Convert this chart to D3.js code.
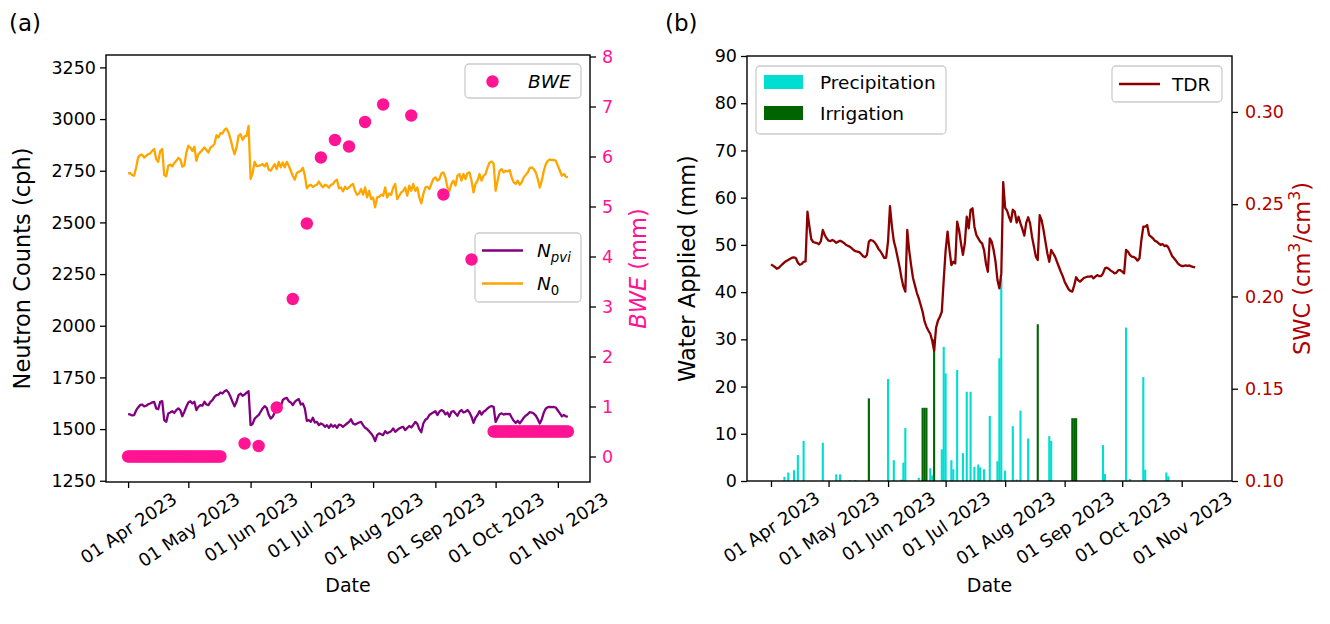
<!DOCTYPE html>
<html>
<head>
<meta charset="utf-8">
<script src="https://cdn.jsdelivr.net/npm/d3@7"></script>
<style>
  body { margin: 0; background: #ffffff; }
  svg text { font-family: "DejaVu Sans", sans-serif; }
</style>
</head>
<body>
<svg id="chart" width="1330" height="624"></svg>
<script>
// ---------------- data ----------------
// daily series start on this date
const seriesStart = "2023-04-01";

// corrected neutron intensity N_pvi (cph), one value per day
const npviCounts = [
  1572,1571,1566,1568,1590,1605,1616,1619,1610,1613,
  1620,1624,1629,1632,1600,1596,1632,1635,1543,1535,
  1575,1580,1587,1578,1592,1600,1592,1562,1584,1608,
  1629,1635,1624,1632,1592,1608,1616,1613,1632,1619,
  1616,1632,1640,1656,1664,1667,1677,1672,1683,1688,
  1677,1656,1632,1610,1632,1664,1672,1661,1667,1676,
  1683,1519,1525,1550,1560,1568,1584,1600,1611,1603,
  1570,1551,1560,1580,1600,1624,1608,1640,1648,1651,
  1635,1629,1616,1632,1640,1645,1619,1624,1600,1540,
  1543,1535,1555,1532,1535,1519,1527,1522,1511,1519,
  1506,1522,1511,1519,1506,1522,1519,1511,1519,1527,
  1535,1548,1527,1522,1527,1532,1535,1519,1506,1500,
  1490,1479,1465,1442,1471,1479,1475,1471,1490,1480,
  1485,1490,1503,1487,1495,1503,1508,1511,1495,1505,
  1515,1508,1520,1535,1525,1500,1485,1527,1545,1551,
  1568,1575,1580,1587,1568,1584,1592,1587,1571,1580,
  1560,1584,1587,1576,1564,1584,1592,1580,1584,1592,
  1580,1560,1530,1555,1568,1587,1570,1584,1590,1600,
  1608,1611,1608,1535,1554,1572,1576,1570,1574,1572,
  1574,1556,1540,1530,1540,1528,1540,1555,1565,1572,
  1582,1580,1575,1565,1548,1527,1548,1580,1600,1606,
  1608,1606,1607,1604,1590,1576,1562,1568,1562,1560
];

// N0 calibration parameter (cph), one value per day
const n0Counts = [
  2737,2739,2730,2726,2766,2814,2826,2828,2814,2822,
  2830,2834,2846,2855,2806,2793,2846,2855,2729,2723,
  2774,2780,2771,2787,2798,2812,2805,2770,2775,2838,
  2871,2862,2846,2866,2798,2830,2840,2851,2862,2850,
  2838,2862,2868,2880,2922,2911,2932,2930,2948,2954,
  2935,2903,2862,2830,2862,2919,2927,2899,2916,2919,
  2967,2710,2739,2793,2772,2774,2777,2782,2771,2787,
  2755,2750,2766,2782,2758,2793,2766,2790,2766,2793,
  2774,2750,2726,2707,2739,2745,2750,2764,2729,2665,
  2678,2682,2671,2678,2682,2698,2681,2670,2682,2678,
  2668,2682,2685,2700,2707,2665,2669,2650,2673,2661,
  2669,2680,2686,2653,2634,2640,2661,2634,2669,2621,
  2653,2613,2621,2573,2621,2624,2634,2629,2669,2621,
  2640,2634,2669,2686,2613,2629,2645,2653,2669,2629,
  2678,2653,2686,2653,2669,2621,2592,2637,2669,2673,
  2661,2686,2710,2718,2702,2710,2737,2742,2718,2669,
  2653,2686,2702,2678,2726,2734,2702,2734,2710,2738,
  2742,2702,2645,2686,2702,2734,2702,2726,2734,2766,
  2790,2795,2785,2653,2702,2750,2758,2742,2750,2747,
  2753,2718,2694,2686,2702,2682,2694,2718,2730,2742,
  2763,2766,2758,2742,2710,2669,2702,2750,2782,2798,
  2805,2801,2803,2798,2774,2750,2726,2734,2721,2718
];

// biomass water equivalent (mm): daily values before and after the season
const bweEarlyStart = "2023-04-01";
const bweEarly = [
  0,0,0,0,0,0,0,0,0,0, 0,0,0,0,0,0,0,0,0,0,
  0,0,0,0,0,0,0,0,0,0, 0,0,0,0,0,0,0,0,0,0,
  0,0,0,0,0,0,0
];
const bweLateStart = "2023-09-30";
const bweLate = [
  0.5,0.5,0.5,0.5,0.5,0.5,0.5,0.5,0.5,0.5,
  0.5,0.5,0.5,0.5,0.5,0.5,0.5,0.5,0.5,0.5,
  0.5,0.5,0.5,0.5,0.5,0.5,0.5,0.5,0.5,0.5,
  0.5,0.5,0.5,0.5,0.5,0.5,0.5,0.5
];
// in-season BWE samples
const bweDates  = ["2023-05-29","2023-06-05","2023-06-14","2023-06-22","2023-06-29","2023-07-06",
                   "2023-07-13","2023-07-20","2023-07-28","2023-08-06","2023-08-20","2023-09-05","2023-09-19"];
const bweValues = [0.26,0.21,0.98,3.15,4.66,5.98,6.33,6.20,6.69,7.04,6.82,5.24,3.94];

// daily rainfall (mm)
const precipDates = [
  "2023-04-08","2023-04-10","2023-04-13","2023-04-15","2023-04-18","2023-04-28","2023-05-05","2023-05-07",
  "2023-05-12","2023-05-15","2023-06-01","2023-06-04","2023-06-08","2023-06-09","2023-06-10","2023-06-17",
  "2023-06-23","2023-06-24","2023-06-29","2023-06-30","2023-07-01","2023-07-04","2023-07-05","2023-07-07",
  "2023-07-10","2023-07-12","2023-07-14","2023-07-16","2023-07-18","2023-07-19","2023-07-21","2023-07-24",
  "2023-07-28","2023-07-29","2023-07-30","2023-08-01","2023-08-05","2023-08-07","2023-08-09","2023-08-13",
  "2023-08-24","2023-08-25","2023-09-21","2023-09-22","2023-10-03","2023-10-05","2023-10-12","2023-10-13",
  "2023-10-24","2023-10-25"
];
const precipValues = [
  0.9,1.8,2.3,5.5,8.5,8.1,1.4,1.4,
  0.2,0.2,21.6,4.4,0.3,3.9,11.2,0.7,
  2.7,1.2,6.7,28.4,22.8,4.4,2.5,23.5,
  5.9,18.9,18.9,3.0,3.5,2.9,2.5,13.8,
  4.2,26.0,42.9,2.2,11.6,0.3,14.9,9.0,
  9.5,8.5,7.6,1.5,32.5,0.4,22.0,2.4,
  1.8,1.0
];

// daily irrigation (mm)
const irrigDates  = ["2023-05-22","2023-06-19","2023-06-20","2023-06-21","2023-06-25",
                     "2023-08-18","2023-09-05","2023-09-06","2023-09-07"];
const irrigValues = [17.5,15.5,15.5,15.5,30.0,33.2,13.3,13.3,13.3];

// TDR soil water content (cm3/cm3), one value per day
const tdrSwc = [
  0.2174,0.2167,0.2160,0.2150,0.2155,0.2165,0.2175,0.2185,0.2192,0.2198,
  0.2204,0.2210,0.2212,0.2207,0.2183,0.2172,0.2176,0.2188,0.2190,0.2460,
  0.2380,0.2310,0.2295,0.2292,0.2289,0.2283,0.2300,0.2360,0.2333,0.2315,
  0.2302,0.2300,0.2306,0.2300,0.2291,0.2297,0.2302,0.2297,0.2290,0.2280,
  0.2275,0.2270,0.2262,0.2252,0.2245,0.2243,0.2240,0.2230,0.2218,0.2213,
  0.2225,0.2297,0.2306,0.2302,0.2293,0.2278,0.2258,0.2245,0.2228,0.2208,
  0.2210,0.2300,0.2490,0.2380,0.2300,0.2260,0.2210,0.2160,0.2100,0.2053,
  0.2026,0.2360,0.2250,0.2170,0.2100,0.2060,0.2020,0.1990,0.1954,0.1917,
  0.1865,0.1836,0.1815,0.1798,0.1760,0.1706,0.1830,0.1869,0.1890,0.1917,
  0.2089,0.2250,0.2351,0.2252,0.2170,0.2188,0.2179,0.2405,0.2360,0.2288,
  0.2225,0.2288,0.2432,0.2369,0.2469,0.2478,0.2378,0.2333,0.2315,0.2297,
  0.2288,0.2252,0.2179,0.2134,0.2315,0.2297,0.2252,0.2188,0.2089,0.2044,
  0.2125,0.2620,0.2480,0.2465,0.2432,0.2405,0.2470,0.2460,0.2400,0.2432,
  0.2396,0.2365,0.2330,0.2400,0.2429,0.2396,0.2324,0.2270,0.2216,0.2198,
  0.2440,0.2414,0.2360,0.2297,0.2234,0.2188,0.2252,0.2234,0.2216,0.2188,
  0.2161,0.2134,0.2110,0.2080,0.2060,0.2040,0.2030,0.2026,0.2060,0.2104,
  0.2089,0.2080,0.2090,0.2100,0.2104,0.2107,0.2107,0.2111,0.2098,0.2107,
  0.2116,0.2110,0.2110,0.2125,0.2152,0.2156,0.2150,0.2140,0.2134,0.2125,
  0.2129,0.2143,0.2143,0.2134,0.2125,0.2252,0.2243,0.2225,0.2216,0.2214,
  0.2207,0.2194,0.2207,0.2306,0.2378,0.2378,0.2387,0.2333,0.2324,0.2315,
  0.2302,0.2297,0.2288,0.2279,0.2284,0.2273,0.2277,0.2266,0.2243,0.2219,
  0.2207,0.2194,0.2179,0.2170,0.2165,0.2165,0.2168,0.2166,0.2168,0.2163,
  0.2160,0.2158
];

// axis ticks
const countTicks = [1250,1500,1750,2000,2250,2500,2750,3000,3250];
const bweTicks = [0,1,2,3,4,5,6,7,8];
const waterTicks = [0,10,20,30,40,50,60,70,80,90];
const swcTicks = [0.10,0.15,0.20,0.25,0.30];
const monthTicks = ["2023-04-01","2023-05-01","2023-06-01","2023-07-01","2023-08-01","2023-09-01","2023-10-01","2023-11-01"];

// ---------------- helpers ----------------
const parse = d3.utcParse("%Y-%m-%d");
const fmtDate = d3.utcFormat("%d %b %Y");
const daily = (startStr, arr) => {
  const s = parse(startStr);
  return arr.map((v, i) => ({ date: d3.utcDay.offset(s, i), value: v }));
};

const svg = d3.select("#chart");
const TICK_FS = 17.5, XTICK_FS = 18, YLABEL_FS = 22.5, XLABEL_FS = 19, LEG_FS = 18.5;
const TICK_LEN = 6, TICK_PAD = 3, X_ROT = 34;
const PINK = "#ff1493", ORANGE = "#ffa500", PURPLE = "#800080";
const CYAN = "#00ded1", DGREEN = "#006400", DRED = "#8b0000", DRED_TXT = "#b00000";

function styleAxis(g, color, fs) {
  g.select(".domain").remove();
  g.selectAll(".tick line").attr("stroke", "#000").attr("stroke-width", 1.3);
  g.selectAll(".tick text").attr("fill", color || "#000")
    .style("font-size", (fs || TICK_FS) + "px").style("font-family", "DejaVu Sans, sans-serif");
}

// matplotlib-style rotated labels: the rotated box is centred under its tick
function rotateDateTicks(g) {
  const rad = X_ROT * Math.PI / 180;
  g.selectAll(".tick text").each(function () {
    const t = d3.select(this);
    t.attr("y", null).attr("dy", null)
      .attr("text-anchor", "middle").attr("dominant-baseline", "central");
    const L = this.getComputedTextLength();
    const h = XTICK_FS * 0.78;
    const H = L * Math.sin(rad) + h * Math.cos(rad);
    t.attr("transform", `translate(0,${TICK_LEN + TICK_PAD + H / 2}) rotate(${-X_ROT})`);
  });
}

function legendBox(g, x, y, w, h) {
  g.append("rect").attr("x", x).attr("y", y).attr("width", w).attr("height", h)
    .attr("rx", 4).attr("fill", "#fff").attr("fill-opacity", 0.8)
    .attr("stroke", "#cccccc").attr("stroke-width", 1.3);
}

// ---------------- panel (a) ----------------
const A = { left: 106, right: 590, top: 55, bottom: 482 };
const xA = d3.scaleUtc().domain([parse("2023-03-21"), parse("2023-11-17")]).range([A.left, A.right]);
const yA = d3.scaleLinear().domain([1244, 3310]).range([A.bottom, A.top]);
const yA2 = d3.scaleLinear().domain([-0.51, 8.03]).range([A.bottom, A.top]);

const gA = svg.append("g");

const lineA = d3.line().x(d => xA(d.date)).y(d => yA(d.value));
gA.append("path").datum(daily(seriesStart, npviCounts)).attr("d", lineA)
  .attr("fill", "none").attr("stroke", PURPLE).attr("stroke-width", 2.3).attr("stroke-linejoin", "round");
gA.append("path").datum(daily(seriesStart, n0Counts)).attr("d", lineA)
  .attr("fill", "none").attr("stroke", ORANGE).attr("stroke-width", 2.3).attr("stroke-linejoin", "round");

// legend for neutron lines (primary axis)
const legA1 = gA.append("g");
legendBox(legA1, 475, 233, 106, 69);
[[PURPLE, 250.5, "pvi"], [ORANGE, 283.5, "0"]].forEach(([c, yy, sub]) => {
  legA1.append("line").attr("x1", 482).attr("x2", 523).attr("y1", yy).attr("y2", yy)
    .attr("stroke", c).attr("stroke-width", 2.3);
  const t = legA1.append("text").attr("x", 537).attr("y", yy + 6.5).style("font-size", LEG_FS + "px");
  t.append("tspan").text("N").style("font-style", "italic");
  t.append("tspan").text(sub).attr("dy", 4.5).style("font-size", (LEG_FS * 0.72) + "px")
    .style("font-style", sub === "0" ? "normal" : "italic");
});

// BWE scatter (secondary axis)
const bweAll = daily(bweEarlyStart, bweEarly)
  .concat(bweDates.map((d, i) => ({ date: parse(d), value: bweValues[i] })))
  .concat(daily(bweLateStart, bweLate));
gA.append("g").selectAll("circle").data(bweAll).join("circle")
  .attr("cx", d => xA(d.date)).attr("cy", d => yA2(d.value)).attr("r", 6.2).attr("fill", PINK);

// BWE legend
const legA2 = gA.append("g");
legendBox(legA2, 465, 64, 116, 34);
legA2.append("circle").attr("cx", 492.5).attr("cy", 81.5).attr("r", 6.2).attr("fill", PINK);
legA2.append("text").attr("x", 528).attr("y", 88).style("font-size", LEG_FS + "px")
  .style("font-style", "italic").text("BWE");

// frame and axes
gA.append("rect").attr("x", A.left).attr("y", A.top).attr("width", A.right - A.left)
  .attr("height", A.bottom - A.top).attr("fill", "none").attr("stroke", "#000").attr("stroke-width", 1.4);

const axA = gA.append("g").attr("transform", `translate(${A.left},0)`)
  .call(d3.axisLeft(yA).tickValues(countTicks).tickSize(TICK_LEN).tickPadding(TICK_PAD + 1).tickFormat(d3.format("d")));
styleAxis(axA);
const axA2 = gA.append("g").attr("transform", `translate(${A.right},0)`)
  .call(d3.axisRight(yA2).tickValues(bweTicks).tickSize(TICK_LEN).tickPadding(TICK_PAD + 3).tickFormat(d3.format("d")));
styleAxis(axA2, PINK);
const axAx = gA.append("g").attr("transform", `translate(0,${A.bottom})`)
  .call(d3.axisBottom(xA).tickValues(monthTicks.map(parse)).tickSize(TICK_LEN).tickFormat(fmtDate));
styleAxis(axAx, "#000", XTICK_FS);
rotateDateTicks(axAx);

gA.append("text").attr("transform", `translate(22,${(A.top + A.bottom) / 2}) rotate(-90)`)
  .attr("text-anchor", "middle").attr("dominant-baseline", "central")
  .style("font-size", YLABEL_FS + "px").text("Neutron Counts (cph)");
const bweLab = gA.append("text").attr("transform", `translate(638,${(A.top + A.bottom) / 2}) rotate(-90)`)
  .attr("text-anchor", "middle").attr("dominant-baseline", "central")
  .style("font-size", YLABEL_FS + "px").attr("fill", PINK);
bweLab.append("tspan").style("font-style", "italic").text("BWE");
bweLab.append("tspan").text(" (mm)");
gA.append("text").attr("x", (A.left + A.right) / 2).attr("y", 592).attr("text-anchor", "middle")
  .style("font-size", XLABEL_FS + "px").text("Date");
gA.append("text").attr("x", 9).attr("y", 31).style("font-size", "23px").text("(a)");

// ---------------- panel (b) ----------------
const B = { left: 747, right: 1232, top: 56, bottom: 481 };
const xB = d3.scaleUtc().domain([d3.utcHour.offset(parse("2023-03-19"), 12), d3.utcHour.offset(parse("2023-11-27"), 5)])
  .range([B.left, B.right]);
const yB = d3.scaleLinear().domain([0, 90]).range([B.bottom, B.top]);
const yB2 = d3.scaleLinear().domain([0.10, 0.3303]).range([B.bottom, B.top]);
const gB = svg.append("g");

const dayW = xB(parse("2023-06-02")) - xB(parse("2023-06-01"));
const barW = dayW * 1.1;
const bars = (dates, vals, color) => {
  gB.append("g").selectAll("rect").data(dates.map((d, i) => ({ date: parse(d), value: vals[i] }))).join("rect")
    .attr("x", d => xB(d.date) - barW / 2).attr("width", barW)
    .attr("y", d => yB(d.value)).attr("height", d => yB(0) - yB(d.value))
    .attr("fill", color);
};
bars(precipDates, precipValues, CYAN);
bars(irrigDates, irrigValues, DGREEN);

// legend for bars
const legB1 = gB.append("g");
legendBox(legB1, 756, 66, 190, 68);
legB1.append("rect").attr("x", 764).attr("y", 75).attr("width", 39).attr("height", 14).attr("fill", CYAN);
legB1.append("rect").attr("x", 764).attr("y", 106).attr("width", 39).attr("height", 14).attr("fill", DGREEN);
legB1.append("text").attr("x", 820).attr("y", 88.5).style("font-size", LEG_FS + "px").text("Precipitation");
legB1.append("text").attr("x", 820).attr("y", 119.5).style("font-size", LEG_FS + "px").text("Irrigation");

// TDR line (secondary axis)
gB.append("path").datum(daily(seriesStart, tdrSwc))
  .attr("d", d3.line().x(d => xB(d.date)).y(d => yB2(d.value)))
  .attr("fill", "none").attr("stroke", DRED).attr("stroke-width", 2.3).attr("stroke-linejoin", "round");

const legB2 = gB.append("g");
legendBox(legB2, 1112, 66, 110, 36);
legB2.append("line").attr("x1", 1119).attr("x2", 1160).attr("y1", 84).attr("y2", 84)
  .attr("stroke", DRED).attr("stroke-width", 2.3);
legB2.append("text").attr("x", 1172).attr("y", 90.5).style("font-size", LEG_FS + "px").text("TDR");

gB.append("rect").attr("x", B.left).attr("y", B.top).attr("width", B.right - B.left)
  .attr("height", B.bottom - B.top).attr("fill", "none").attr("stroke", "#000").attr("stroke-width", 1.4);

const axB = gB.append("g").attr("transform", `translate(${B.left},0)`)
  .call(d3.axisLeft(yB).tickValues(waterTicks).tickSize(TICK_LEN).tickPadding(TICK_PAD + 1).tickFormat(d3.format("d")));
styleAxis(axB);
const axB2 = gB.append("g").attr("transform", `translate(${B.right},0)`)
  .call(d3.axisRight(yB2).tickValues(swcTicks).tickSize(TICK_LEN).tickPadding(TICK_PAD + 4).tickFormat(d3.format(".2f")));
styleAxis(axB2, DRED_TXT);
const axBx = gB.append("g").attr("transform", `translate(0,${B.bottom})`)
  .call(d3.axisBottom(xB).tickValues(monthTicks.map(parse)).tickSize(TICK_LEN).tickFormat(fmtDate));
styleAxis(axBx, "#000", XTICK_FS);
rotateDateTicks(axBx);

gB.append("text").attr("transform", `translate(687,${(B.top + B.bottom) / 2}) rotate(-90)`)
  .attr("text-anchor", "middle").attr("dominant-baseline", "central")
  .style("font-size", YLABEL_FS + "px").text("Water Applied (mm)");
const swcLab = gB.append("text").attr("transform", `translate(1302,${(B.top + B.bottom) / 2}) rotate(-90)`)
  .attr("text-anchor", "middle").attr("dominant-baseline", "central")
  .style("font-size", YLABEL_FS + "px").attr("fill", DRED_TXT);
swcLab.append("tspan").text("SWC (cm");
swcLab.append("tspan").text("3").attr("dy", -8).style("font-size", (YLABEL_FS * 0.7) + "px");
swcLab.append("tspan").text("/cm").attr("dy", 8);
swcLab.append("tspan").text("3").attr("dy", -8).style("font-size", (YLABEL_FS * 0.7) + "px");
swcLab.append("tspan").text(")").attr("dy", 8);
gB.append("text").attr("x", (B.left + B.right) / 2).attr("y", 592).attr("text-anchor", "middle")
  .style("font-size", XLABEL_FS + "px").text("Date");
gB.append("text").attr("x", 665).attr("y", 31).style("font-size", "23px").text("(b)");
</script>
</body>
</html>
